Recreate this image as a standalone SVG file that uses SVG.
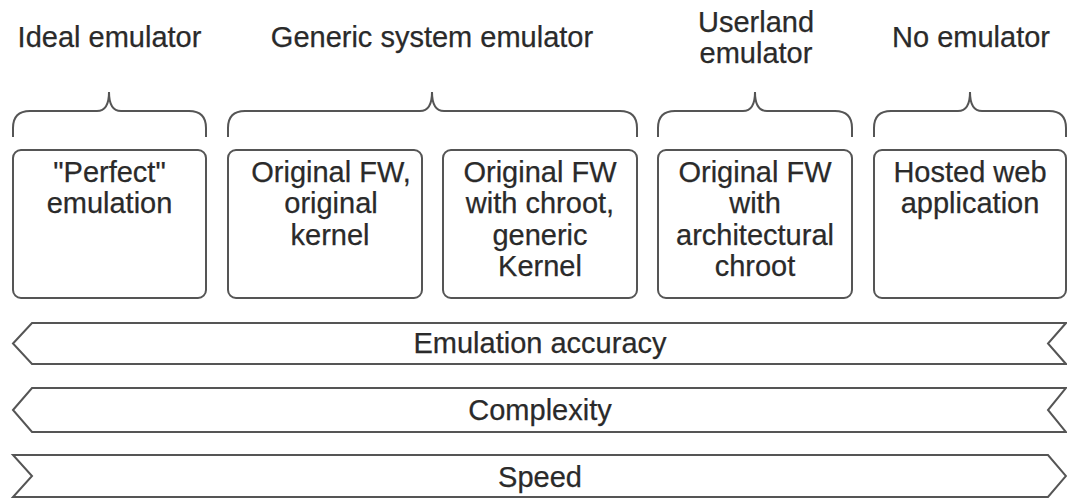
<svg xmlns="http://www.w3.org/2000/svg" width="1067" height="500" viewBox="0 0 1067 500">
<style>
text{font-family:"Liberation Sans",Arial,sans-serif;font-size:29px;fill:#2a2a2a;stroke:#2a2a2a;stroke-width:0.25;text-anchor:middle}
.box{fill:#fff;stroke:#555;stroke-width:2}
.brace{fill:none;stroke:#555;stroke-width:2}
.band{fill:#fff;stroke:#555;stroke-width:2;stroke-linejoin:miter}
</style>
<rect width="1067" height="500" fill="#fff"/>
<g id="headers">
<text x="109.5" y="47">Ideal emulator</text>
<text x="432" y="47">Generic system emulator</text>
<text x="756" y="32">Userland</text>
<text x="756" y="63">emulator</text>
<text x="971" y="47">No emulator</text>
</g>
<g id="braces">
<path class="brace" d="M13,137 L13,128 Q13,111 30,111 L97,111 C104,111 109,106 109,92 C109,106 114,111 121,111 L189,111 Q206,111 206,128 L206,137"/>
<path class="brace" d="M228,137 L228,128 Q228,111 245,111 L420,111 C427,111 432,106 432,92 C432,106 437,111 444,111 L620,111 Q637,111 637,128 L637,137"/>
<path class="brace" d="M658,137 L658,128 Q658,111 675,111 L743,111 C750,111 755,106 755,92 C755,106 760,111 767,111 L835,111 Q852,111 852,128 L852,137"/>
<path class="brace" d="M874,137 L874,128 Q874,111 891,111 L958,111 C965,111 970,106 970,92 C970,106 975,111 982,111 L1049,111 Q1066,111 1066,128 L1066,137"/>
</g>
<g id="node1">
<rect class="box" x="13" y="150" width="193" height="148" rx="8"/>
<text x="109.5" y="182">"Perfect"</text>
<text x="109.5" y="213">emulation</text>
</g>
<g id="node2">
<rect class="box" x="228" y="150" width="194" height="148" rx="8"/>
<text x="331" y="182">Original FW,</text>
<text x="331" y="213">original</text>
<text x="330" y="245">kernel</text>
</g>
<g id="node3">
<rect class="box" x="443" y="150" width="194" height="148" rx="8"/>
<text x="540" y="182">Original FW</text>
<text x="540" y="213">with chroot,</text>
<text x="540" y="245">generic</text>
<text x="540" y="276">Kernel</text>
</g>
<g id="node4">
<rect class="box" x="658" y="150" width="194" height="148" rx="8"/>
<text x="755" y="182">Original FW</text>
<text x="755" y="213">with</text>
<text x="755" y="245">architectural</text>
<text x="755" y="276">chroot</text>
</g>
<g id="node5">
<rect class="box" x="874" y="150" width="192" height="148" rx="8"/>
<text x="970" y="182">Hosted web</text>
<text x="970" y="213">application</text>
</g>
<g id="connectors">
<g id="accuracy">
<path class="band" d="M13,343.5 L32,323 L1066,323 L1048,343.5 L1066,364 L32,364 Z"/>
<text x="540" y="353">Emulation accuracy</text>
</g>
<g id="complexity">
<path class="band" d="M13,410 L32,388 L1066,388 L1048,410 L1066,432 L32,432 Z"/>
<text x="540" y="420">Complexity</text>
</g>
<g id="speed">
<path class="band" d="M13,455 L1048,455 L1066,476 L1048,497 L13,497 L32,476 Z"/>
<text x="540" y="487">Speed</text>
</g>
</g>
</svg>
